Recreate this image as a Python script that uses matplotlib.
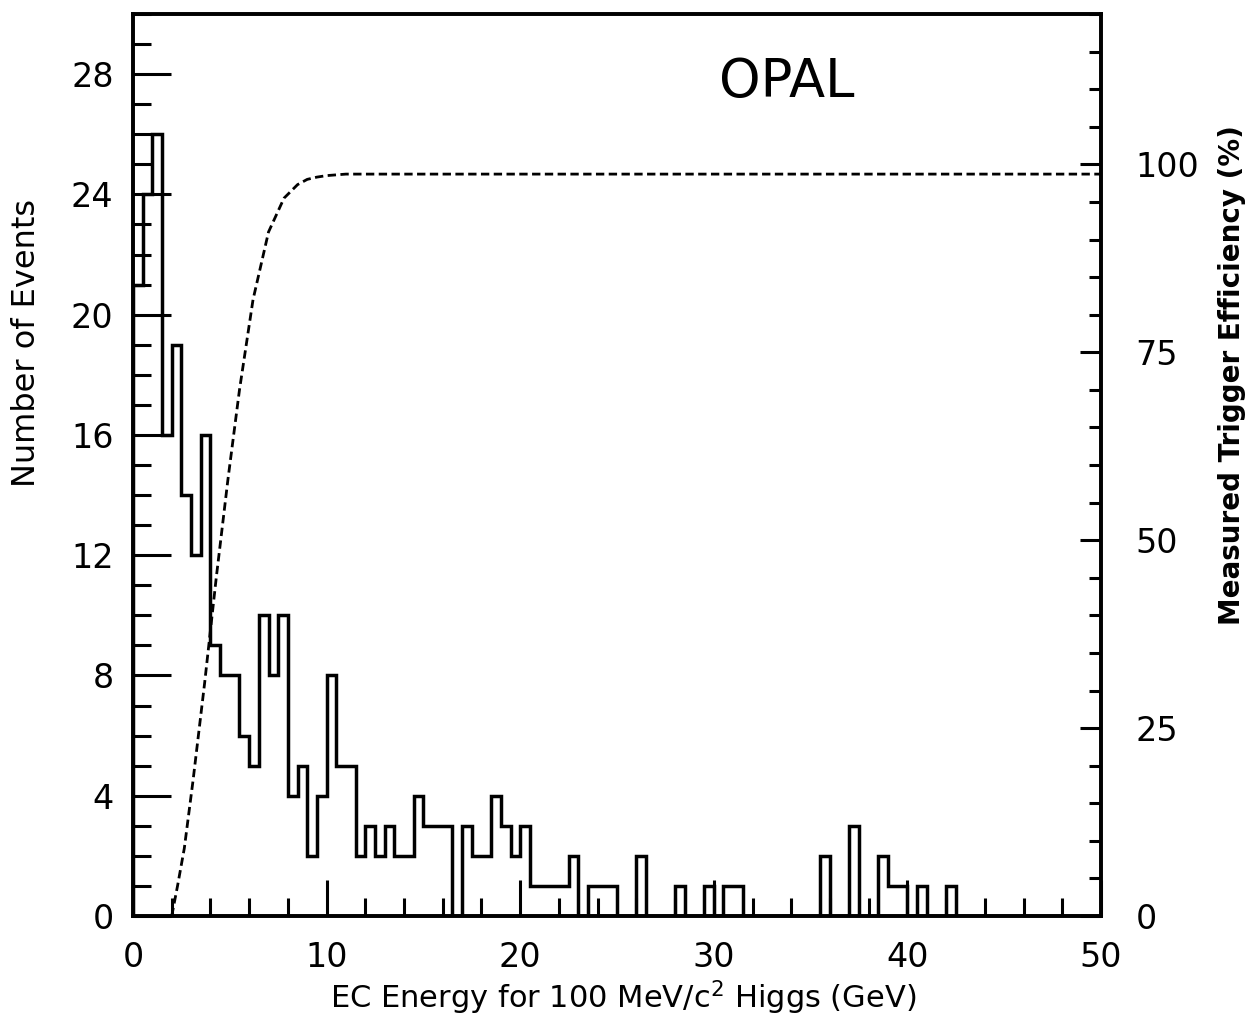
import numpy as np
import matplotlib.pyplot as plt
from matplotlib.ticker import MultipleLocator

# 0.5 GeV bins from 0 to 50
bin_edges = np.arange(0, 50.5, 0.5)
counts = [21, 24, 26, 16, 19, 14, 12, 16, 9, 8,      # 0 - 5
          8, 6, 5, 10, 8, 10, 4, 5, 2, 4,             # 5 - 10
          8, 5, 5, 2, 3, 2, 3, 2, 2, 4,               # 10 - 15
          3, 3, 3, 0, 3, 2, 2, 4, 3, 2,               # 15 - 20
          3, 1, 1, 1, 1, 2, 0, 1, 1, 1,               # 20 - 25
          0, 0, 2, 0, 0, 0, 1, 0, 0, 1,               # 25 - 30
          0, 1, 1, 0, 0, 0, 0, 0, 0, 0,               # 30 - 35
          0, 2, 0, 0, 3, 0, 0, 2, 1, 1,               # 35 - 40
          0, 1, 0, 0, 1, 0, 0, 0, 0, 0,               # 40 - 45
          0, 0, 0, 0, 0, 0, 0, 0, 0, 0]               # 45 - 50

# measured trigger efficiency (%)
eff_x = [2.0, 2.3, 2.65, 3.1, 3.7, 4.3, 4.9, 5.5, 6.2, 7.0, 7.8, 8.5, 9.0, 9.5, 10.0, 11.0, 50.0]
eff_y = [0, 4, 9, 18, 31, 45, 58, 70, 82, 91, 95.5, 97.3, 98.0, 98.3, 98.5, 98.7, 98.7]

fig = plt.figure(figsize=(12.6, 10.22), dpi=100)
ax = fig.add_axes([133/1260, 1 - 916/1022, (1101 - 133)/1260, (916 - 14)/1022])

ax.stairs(counts, bin_edges, color='black', lw=2.5)
ax.set_xlim(0, 50)
ax.set_ylim(0, 30)

for s in ax.spines.values():
    s.set_linewidth(2.6)

ax.xaxis.set_major_locator(MultipleLocator(10))
ax.xaxis.set_minor_locator(MultipleLocator(2))
ax.yaxis.set_major_locator(MultipleLocator(4))
ax.yaxis.set_minor_locator(MultipleLocator(1))
ax.set_yticks(range(0, 29, 4))
ax.tick_params(axis='both', which='both', direction='in', width=2.2,
               top=False, right=False, labelsize=24)
ax.tick_params(axis='y', which='major', length=27, pad=14)
ax.tick_params(axis='y', which='minor', length=13)
ax.tick_params(axis='x', which='major', length=26, pad=18)
ax.tick_params(axis='x', which='minor', length=13)

ax2 = ax.twinx()
ax2.plot(eff_x, eff_y, color='black', lw=2, ls=(0, (3, 1.6)))
ax2.set_ylim(0, 120)
ax2.set_yticks([0, 25, 50, 75, 100])
ax2.yaxis.set_minor_locator(MultipleLocator(5))
ax2.tick_params(axis='y', which='both', direction='in', width=2.2, labelsize=24)
ax2.tick_params(axis='y', which='major', length=15, pad=25)
ax2.tick_params(axis='y', which='minor', length=9)
for s in ax2.spines.values():
    s.set_linewidth(2.6)

ax.text(0.675, 0.925, 'OPAL', transform=ax.transAxes, fontsize=38,
        ha='center', va='center')

fig.text(623/1260, 1 - 998/1022, 'EC Energy for 100 MeV/c$^2$ Higgs (GeV)',
         fontsize=22, ha='center', va='center')
fig.text(27/1260, 1 - 343/1022, 'Number of Events', fontsize=23,
         rotation=90, ha='center', va='center')
fig.text(1232/1260, 1 - 375/1022, 'Measured Trigger Efficiency (%)',
         fontsize=20, rotation=90, ha='center', va='center',
         fontweight='bold')

fig.savefig('out.png', dpi=100)
